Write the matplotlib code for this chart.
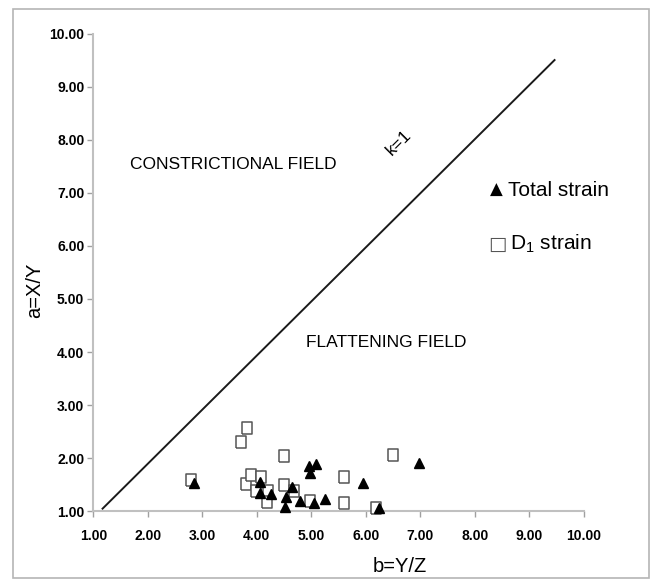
import matplotlib
matplotlib.use("Agg")
import matplotlib.pyplot as plt
from matplotlib.patches import Rectangle

# Data
total_b = [2.85, 4.05, 4.05, 4.26, 4.65, 4.54, 4.51, 4.80, 4.96, 5.08, 4.97, 5.04, 5.25, 5.95, 6.97, 6.24]
total_a = [1.54, 1.56, 1.34, 1.32, 1.46, 1.26, 1.09, 1.20, 1.85, 1.90, 1.73, 1.16, 1.24, 1.54, 1.91, 1.06]
d1_b = [2.80, 3.70, 3.81, 3.80, 3.89, 3.99, 4.08, 4.20, 4.19, 4.49, 4.49, 4.69, 4.98, 5.60, 5.60, 6.18, 6.49]
d1_a = [1.59, 2.31, 2.56, 1.52, 1.68, 1.39, 1.64, 1.38, 1.18, 2.04, 1.49, 1.39, 1.20, 1.64, 1.16, 1.07, 2.06]
k1_b = [1.17, 9.46]
k1_a = [1.05, 9.50]
ticks = [1, 2, 3, 4, 5, 6, 7, 8, 9, 10]
tick_labels = ["%.2f" % t for t in ticks]

W, H = 659, 584
fig = plt.figure(figsize=(W / 100, H / 100), dpi=100)
fig.patch.set_facecolor("white")
fig.patches.append(Rectangle((13 / W, 1 - 578 / H), (649 - 13) / W, (578 - 9) / H,
                             transform=fig.transFigure, fill=False,
                             edgecolor="#b5b5b5", linewidth=1.2))

ax = fig.add_axes([93.3 / W, 1 - 511.3 / H, (584 - 93.3) / W, (511.3 - 33.5) / H])
ax.set_xlim(1, 10)
ax.set_ylim(1, 10)
for s in ["top", "right"]:
    ax.spines[s].set_visible(False)
for s in ["left", "bottom"]:
    ax.spines[s].set_color("#c0c0c0")
    ax.spines[s].set_linewidth(1.5)

tick_font = dict(family=["Liberation Sans", "DejaVu Sans"], weight="bold", size=10)
ax.set_xticks(ticks)
ax.set_xticklabels(tick_labels, **tick_font)
ax.set_yticks(ticks)
ax.set_yticklabels(tick_labels, **tick_font)
ax.tick_params(axis="both", direction="out", length=4, width=1, color="#a0a0a0")
ax.tick_params(axis="x", pad=9)
ax.tick_params(axis="y", pad=2.5)

ax.plot(k1_b, k1_a, color="#1a1a1a", linewidth=1.4, clip_on=False)

rect_marker = [(-0.78, -1), (0.78, -1), (0.78, 1), (-0.78, 1), (-0.78, -1)]
ax.plot(d1_b, d1_a, linestyle="none", marker=rect_marker, markersize=9,
        markerfacecolor="white", markeredgecolor="#555555", markeredgewidth=1.1,
        clip_on=False, zorder=3)
ax.plot(total_b, total_a, linestyle="none", marker="^", markersize=7.5,
        color="black", clip_on=False, zorder=4)

lab_font = dict(family=["Liberation Sans", "DejaVu Sans"])
ax.text(1.67, 7.54, "CONSTRICTIONAL FIELD", ha="left", va="center", fontsize=12.5, **lab_font)
ax.text(4.91, 4.18, "FLATTENING FIELD", ha="left", va="center", fontsize=12.5, **lab_font)
ax.text(6.6, 7.95, "k=1", ha="center", va="center", fontsize=12.5, rotation=45, **lab_font)

# legend
fig.text(496 / W, 1 - 190 / H, "\u25B2", ha="center", va="center", fontsize=12, family="DejaVu Sans")
fig.text(508 / W, 1 - 190 / H, "Total strain", ha="left", va="center", fontsize=15, **lab_font)
fig.text(497 / W, 1 - 244 / H, "\u25A1", ha="center", va="center", fontsize=14,
         family="DejaVu Sans", color="#555555")
fig.text(510 / W, 1 - 244 / H, r"D$_{\mathregular{1}}$ strain", ha="left", va="center",
         fontsize=15, **lab_font)

fig.text(35 / W, 1 - 290 / H, "a=X/Y", rotation=90, ha="center", va="center", fontsize=14.5, **lab_font)
fig.text(400 / W, 1 - 566 / H, "b=Y/Z", ha="center", va="center", fontsize=14.5, **lab_font)

fig.savefig("out.png", dpi=100)
